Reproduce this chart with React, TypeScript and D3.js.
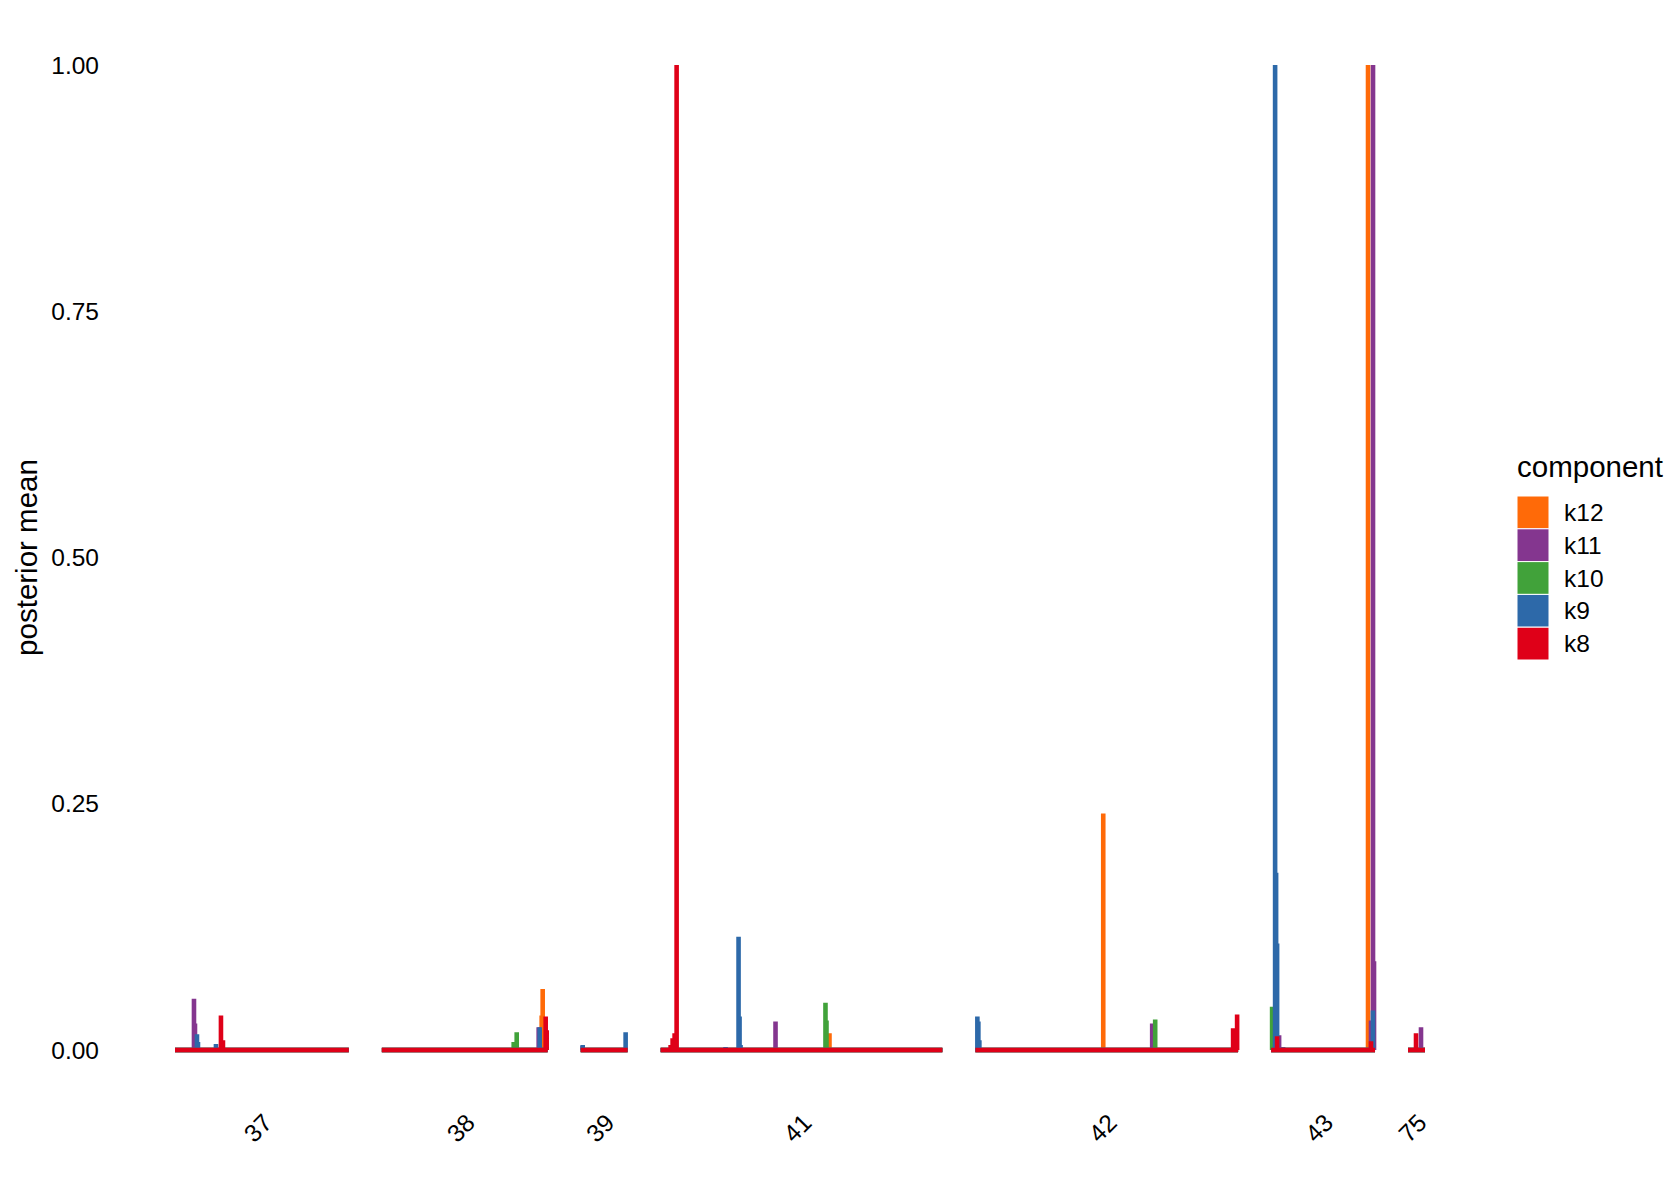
import React from "react";
import * as d3 from "d3";

// ---- data ----
const chromosomes = ["37", "38", "39", "41", "42", "43", "75"];
const siteCounts = [174, 166, 47, 282, 263, 104, 17];
const components = ["k12", "k11", "k10", "k9", "k8"];
const componentColors = ["#FF6A08", "#84368F", "#41A23A", "#2D69A9", "#DF0018"];
const yTicks = [0, 0.25, 0.5, 0.75, 1.0];

// non-zero posterior means: [chromosome, site index, value]; all other sites are 0
type Spike = [string, number, number];
const k12Values: Spike[] = [
  ["38", 160, 0.035], ["38", 161, 0.062],
  ["41", 169, 0.017],
  ["42", 128, 0.24],
  ["43", 97, 1.0],
];
const k11Values: Spike[] = [
  ["37", 19, 0.052], ["37", 20, 0.027],
  ["38", 157, 0.023],
  ["39", 2, 0.004],
  ["41", 64, 0.002], ["41", 115, 0.029],
  ["42", 177, 0.027],
  ["43", 8, 0.015], ["43", 12, 0.003], ["43", 100, 0.03], ["43", 102, 1.0], ["43", 103, 0.09],
  ["75", 13, 0.023],
];
const k10Values: Spike[] = [
  ["38", 132, 0.008], ["38", 135, 0.018],
  ["41", 165, 0.048], ["41", 166, 0.03],
  ["42", 180, 0.031],
  ["43", 1, 0.044],
];
const k9Values: Spike[] = [
  ["37", 22, 0.016], ["37", 23, 0.008], ["37", 41, 0.006],
  ["38", 158, 0.023],
  ["39", 2, 0.005], ["39", 45, 0.018],
  ["41", 65, 0.003], ["41", 78, 0.115], ["41", 79, 0.034], ["41", 80, 0.005],
  ["42", 2, 0.034], ["42", 3, 0.029], ["42", 4, 0.01],
  ["43", 4, 1.0], ["43", 5, 0.18], ["43", 6, 0.108], ["43", 102, 0.04],
];
const k8Values: Spike[] = [
  ["37", 46, 0.035], ["37", 48, 0.01],
  ["38", 164, 0.034], ["38", 165, 0.02],
  ["41", 10, 0.005], ["41", 12, 0.012], ["41", 14, 0.017], ["41", 16, 1.0],
  ["42", 258, 0.022], ["42", 262, 0.036],
  ["43", 6, 0.014], ["43", 100, 0.009],
  ["75", 8, 0.017],
];
const componentSpikes = [k12Values, k11Values, k10Values, k9Values, k8Values];

// ---- layout ----
const W = 1680;
const H = 1200;
const plotLeft = 175;
const plotRight = 1425;
const panelGap = 33;
const yTop = 65;
const yBottom = 1050;
const FONT = "'Liberation Sans', Arial, Helvetica, sans-serif";

export default function App() {
  const totalSites = d3.sum(siteCounts);
  const pxPerSite = (plotRight - plotLeft - panelGap * (chromosomes.length - 1)) / totalSites;
  let cursor = plotLeft;
  const panels = chromosomes.map((c, i) => {
    const w = siteCounts[i] * pxPerSite;
    const scale = d3.scaleLinear().domain([0, siteCounts[i]]).range([cursor, cursor + w]);
    cursor += w + panelGap;
    return { name: c, count: siteCounts[i], scale };
  });
  const y = d3.scaleLinear().domain([0, 1]).range([yBottom, yTop]);

  const series = components.map((comp, ci) => {
    const path = d3.path();
    panels.forEach((p) => {
      // baseline (all zero sites)
      path.moveTo(p.scale(0), y(0));
      path.lineTo(p.scale(p.count), y(0));
    });
    componentSpikes[ci].forEach(([ch, s, v]) => {
      const p = panels.find((q) => q.name === ch)!;
      path.moveTo(p.scale(s), y(0));
      path.lineTo(p.scale(s), y(v));
    });
    return { comp, color: componentColors[ci], d: path.toString() };
  });

  const strokeW = 4.6;

  return (
    <svg
      width={W}
      height={H}
      style={{ position: "absolute", left: 0, top: 0, background: "#fff" }}
      fontFamily={FONT}
    >
      <rect x={0} y={0} width={W} height={H} fill="#fff" />
      {/* y axis labels */}
      {yTicks.map((t) => (
        <text key={t} x={99} y={y(t)} textAnchor="end" dominantBaseline="central" fontSize={24.5} fill="#000">
          {t.toFixed(2)}
        </text>
      ))}
      <text
        transform={`translate(37,${(yTop + yBottom) / 2}) rotate(-90)`}
        textAnchor="middle"
        fontSize={29.5}
        fill="#000"
      >
        posterior mean
      </text>
      {/* series */}
      {series.map((s) => (
        <path key={s.comp} d={s.d} fill="none" stroke={s.color} strokeWidth={strokeW} strokeLinecap="butt" />
      ))}
      {/* facet labels */}
      {panels.map((p) => {
        const cx = (p.scale.range()[0] + p.scale.range()[1]) / 2 - 4;
        return (
          <text
            key={p.name}
            transform={`translate(${cx},1128) rotate(-45)`}
            textAnchor="middle"
            dominantBaseline="central"
            fontSize={24.5}
            fill="#000"
          >
            {p.name}
          </text>
        );
      })}
      {/* legend */}
      <text x={1517} y={477} fontSize={29.5} fill="#000">component</text>
      {components.map((c, i) => (
        <g key={c}>
          <rect x={1517} y={496 + i * 32.8} width={32} height={32.8} fill={componentColors[i]} stroke="#fff" strokeWidth={1} />
          <text x={1564} y={496 + i * 32.8 + 16.4} dominantBaseline="central" fontSize={24.5} fill="#000">
            {c}
          </text>
        </g>
      ))}
    </svg>
  );
}
